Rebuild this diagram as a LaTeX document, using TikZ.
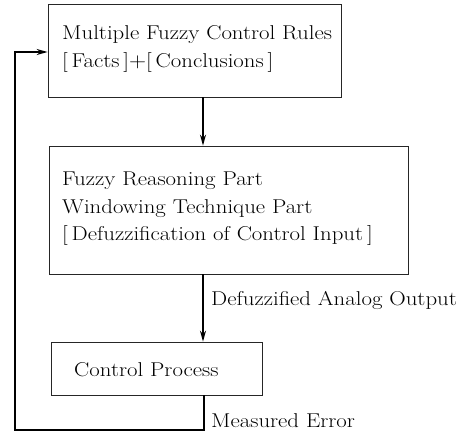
\documentclass[tikz,border=0pt]{standalone}
\usetikzlibrary{arrows.meta}
\begin{document}
\begin{tikzpicture}[x=1pt,y=-1pt,
  blk/.style={draw=black!85,line width=0.8pt,rectangle,inner sep=0pt},
  txt/.style={anchor=base west,inner sep=0pt,transform shape,xscale=1.14,font=\fontsize{20}{24}\selectfont},
  conn/.style={draw=black,line width=1.4pt},
  arr/.style={conn,-{Stealth[length=11pt,width=6pt]}}]
\useasboundingbox (0,0) rectangle (475,434);
% boxes
\node[blk,minimum width=293pt,minimum height=93pt] (rules) at (194.5,50.5) {};
\node[blk,minimum width=359pt,minimum height=128pt] (reason) at (228.5,210) {};
\node[blk,minimum width=211pt,minimum height=53pt] (proc) at (156.5,368.5) {};
% texts
\node[txt] (t1) at (62,39) {Multiple Fuzzy Control Rules};
\node[txt] (t2) at (62,67) {[\,Facts\,]$+$[\,Conclusions\,]};
\node[txt] (t3) at (62,185) {Fuzzy Reasoning Part};
\node[txt] (t4) at (62,213) {Windowing Technique Part};
\node[txt] (t5) at (62,240) {[\,Defuzzification of Control Input\,]};
\node[txt] (t6) at (74,376) {Control Process};
\node[txt] (l1) at (211,305) {Defuzzified Analog Output};
\node[txt] (l2) at (211,427) {Measured Error};
% connectors
\coordinate (c1) at (204,430);
\coordinate (c2) at (15,430);
\coordinate (c3) at (15,52);
\draw[arr] (rules.south -| 203,0) -- (reason.north -| 203,0);
\draw[arr] (reason.south -| 203,0) -- (proc.north -| 203,0);
\draw[arr] (proc.south -| c1) -- (c1) -- (c2) -- (c3) -- (c3 -| rules.west);
\end{tikzpicture}
\end{document}
